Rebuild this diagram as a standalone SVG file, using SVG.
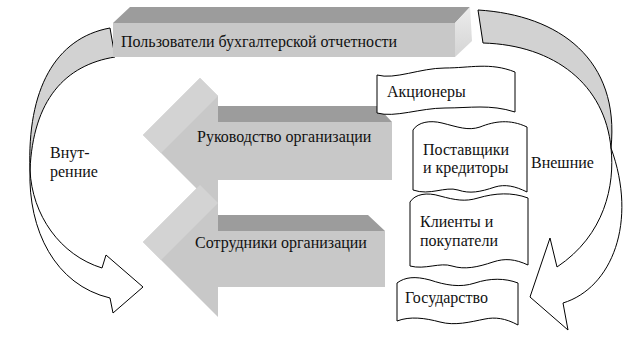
<svg xmlns="http://www.w3.org/2000/svg" width="629" height="341" viewBox="0 0 629 341">
<defs>
<style>
.t{font-family:'Liberation Serif','Times New Roman',Times,serif;font-size:16px;fill:#111}
.ban{fill:#fff;stroke:#000;stroke-width:1}
.band{fill:#d2d2d2;stroke:#000;stroke-width:1}
.shaft{fill:#fff;stroke:#000;stroke-width:1}
.front{fill:#c8c8c8}
.facet{fill:#d3d3d3}
.top{fill:#9c9c9c}
</style>
<linearGradient id="side" x1="0" y1="0" x2="0" y2="1">
<stop offset="0" stop-color="#ececec"/>
<stop offset="1" stop-color="#d4d4d4"/>
</linearGradient>
</defs>
<rect width="629" height="341" fill="#fff"/>

<g id="connectors">
<g id="internal-arrow">
<path class="band" d="M110,28 C55,38 27,90 30,170 C33,100 65,65 115,57 Z"/>
<path class="shaft" d="M30,170 C32,215 60,255 102,268 L106,255 L143,287 L113,313 L110,298 C55,285 28,230 30,170 Z"/>
<text class="t" font-family="Liberation Serif, serif" x="50" y="158">Внут-</text>
<text class="t" font-family="Liberation Serif, serif" x="50" y="177">ренние</text>
</g>
<g id="external-arrow">
<path class="band" d="M478,10 C560,15 620,60 611,148 C605,85 555,45 483,43 Z"/>
<path class="shaft" d="M611,148 C615,185 605,235 557,267 L550,238 L530,297 L568,330 L563,303 C612,288 638,222 611,148 Z"/>
<text class="t" font-family="Liberation Serif, serif" x="531" y="168">Внешние</text>
</g>
</g>

<g id="users">
<polygon class="top" points="113,23 130,7 470,7 455,23"/>
<polygon fill="url(#side)" points="455,23 470,7 472,41 455,57"/>
<rect class="front" x="113" y="23" width="342" height="34"/>
<text class="t" font-family="Liberation Serif, serif" x="121" y="47">Пользователи бухгалтерской отчетности</text>
</g>

<g id="management">
<polygon class="front" points="143,135 200,78 218,96 218,210"/>
<polygon class="facet" points="143,135 200,78 218,96 161,153"/>
<polygon class="top" points="218,106 377,106 392,122 218,122"/>
<rect class="front" x="218" y="122" width="174" height="58"/>
<text class="t" font-family="Liberation Serif, serif" x="197" y="142">Руководство организации</text>
</g>

<g id="staff">
<polygon class="front" points="143,242 200,185 218,203 218,317"/>
<polygon class="facet" points="143,242 200,185 218,203 161,260"/>
<polygon class="top" points="218,215 368,215 385,231 218,231"/>
<rect class="front" x="218" y="231" width="167" height="56"/>
<text class="t" font-family="Liberation Serif, serif" x="195" y="248">Сотрудники организации</text>
</g>

<g id="shareholders">
<path class="ban" d="M377,75 C395,80 420,68 445,68 C470,68 490,62 515,72 L515,112 C490,104 470,108 445,108 C420,108 395,118 377,113 Z"/>
<text class="t" font-family="Liberation Serif, serif" x="387" y="97">Акционеры</text>
</g>

<g id="suppliers">
<path class="ban" d="M413,130 C418,122 430,120 442,123 C458,127 468,131 480,127 C495,121 510,119 527,127 L527,192 C515,186 505,184 495,187 C480,192 470,194 458,190 C445,186 430,196 413,190 Z"/>
<text class="t" font-family="Liberation Serif, serif" x="423" y="155">Поставщики</text>
<text class="t" font-family="Liberation Serif, serif" x="423" y="173">и кредиторы</text>
</g>

<g id="clients">
<path class="ban" d="M410,202 C415,194 427,192 440,196 C455,200 465,202 478,198 C495,193 512,192 528,198 L528,265 C515,259 505,258 493,262 C478,267 465,270 452,266 C440,262 425,270 410,266 Z"/>
<text class="t" font-family="Liberation Serif, serif" x="420" y="227">Клиенты и</text>
<text class="t" font-family="Liberation Serif, serif" x="420" y="246">покупатели</text>
</g>

<g id="state">
<path class="ban" d="M397,283 C405,277 415,276 430,280 C445,285 460,288 475,283 C490,278 505,278 518,283 L518,325 C505,318 495,317 485,319 C470,322 455,326 440,322 C425,318 410,316 397,321 Z"/>
<text class="t" font-family="Liberation Serif, serif" x="405" y="303">Государство</text>
</g>
</svg>
